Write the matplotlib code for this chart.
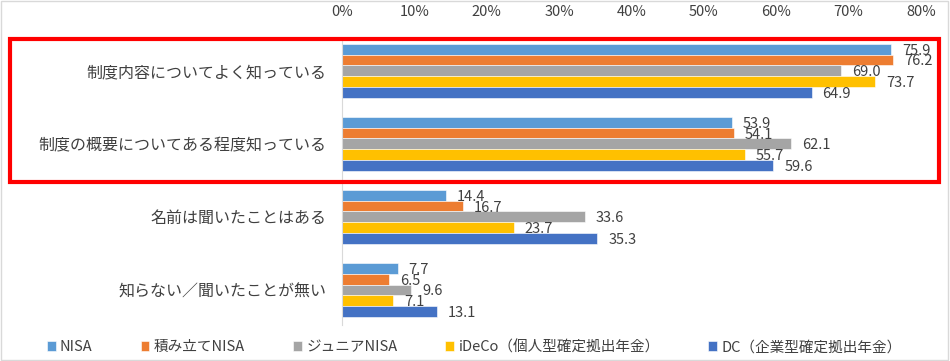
import numpy as np
import matplotlib
matplotlib.use("Agg")
import matplotlib.pyplot as plt
from matplotlib.patches import Rectangle

plt.rcParams['font.family'] = ['Noto Sans CJK JP', 'DejaVu Sans']

# data
categories = ["制度内容についてよく知っている", "制度の概要についてある程度知っている",
              "名前は聞いたことはある", "知らない／聞いたことが無い"]
series_names = ["NISA", "積み立てNISA", "ジュニアNISA", "iDeCo（個人型確定拠出年金）", "DC（企業型確定拠出年金）"]
nisa = [75.9, 53.9, 14.4, 7.7]
tsumitate = [76.2, 54.1, 16.7, 6.5]
junior = [69.0, 62.1, 33.6, 9.6]
ideco = [73.7, 55.7, 23.7, 7.1]
dc = [64.9, 59.6, 35.3, 13.1]
x_ticks = [0, 10, 20, 30, 40, 50, 60, 70, 80]

colors = ["#5B9BD5", "#ED7D31", "#A5A5A5", "#FFC000", "#4472C4"]
text_col = "#404040"

fig = plt.figure(figsize=(9.5, 3.61), dpi=100)
ax = fig.add_axes([342 / 950, 1 - 325 / 361, (921 - 342) / 950, (325 - 38) / 361])

y = np.arange(len(categories))
h = 0.147
all_series = [nisa, tsumitate, junior, ideco, dc]
for i, (vals, name, c) in enumerate(zip(all_series, series_names, colors)):
    pos = y - 2 * h + i * h
    ax.barh(pos, vals, height=h, color=c, label=name, edgecolor="white", linewidth=0.4)
    for p, v in zip(pos, vals):
        ax.text(v + 1.5, p + 0.02, f"{v:.1f}", va="center", ha="left",
                fontsize=10.5, color=text_col)

ax.set_xlim(0, 80)
ax.set_ylim(3.48, -0.448)
ax.xaxis.tick_top()
ax.set_xticks(x_ticks)
ax.set_xticklabels([f"{t}%" for t in x_ticks])
ax.tick_params(axis="x", length=0, labelsize=10.5, colors=text_col, pad=14)
ax.set_yticks(y)
ax.set_yticklabels(categories)
ax.tick_params(axis="y", length=0, labelsize=11.5, colors=text_col, pad=11)
for s in ["top", "right", "bottom"]:
    ax.spines[s].set_visible(False)
ax.spines["left"].set_color("#D9D9D9")

# red highlight box
fig.add_artist(Rectangle((10 / 950, 1 - 182 / 361), 929 / 950, 142.5 / 361,
                         transform=fig.transFigure, fill=False,
                         edgecolor="#FF0000", linewidth=3))
# outer border
fig.add_artist(Rectangle((0.001, 0.002), 0.997, 0.995, transform=fig.transFigure,
                         fill=False, edgecolor="#D9D9D9", linewidth=1))

leg = fig.legend(loc="center", bbox_to_anchor=(0.499, 1 - 347 / 361), ncol=5,
                 frameon=False, fontsize=10.5, handlelength=0.6, handleheight=0.6,
                 handletextpad=0.3, columnspacing=3.3)
for t in leg.get_texts():
    t.set_color(text_col)

fig.savefig("out.png", dpi=100)
